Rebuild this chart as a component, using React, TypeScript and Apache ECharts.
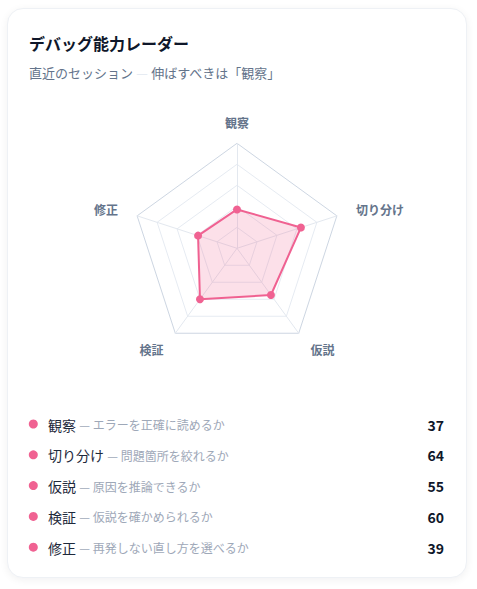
import React, { useEffect, useRef } from 'react';
import * as echarts from 'echarts';

const axisNames = ['観察', '切り分け', '仮説', '検証', '修正'];
const scores = [37, 64, 55, 60, 39];
const descriptions = [
  'エラーを正確に読めるか',
  '問題箇所を絞れるか',
  '原因を推論できるか',
  '仮説を確かめられるか',
  '再発しない直し方を選べるか',
];
const maxScore = 100;
const chartTitle = 'デバッグ能力レーダー';
const subtitleLead = '直近のセッション';
const subtitleFocus = '伸ばすべきは「観察」';

const FONT = "'Noto Sans CJK JP', 'Noto Sans', sans-serif";
const PINK = '#f06292';

export default function App() {
  const ref = useRef<HTMLDivElement>(null);

  useEffect(() => {
    document.body.style.margin = '0';
    const chart = echarts.init(ref.current!, null, { renderer: 'svg' });
    // ECharts radar lays indicators out counter-clockwise from the top;
    // the reference goes clockwise, so reorder.
    const order = [0, 4, 3, 2, 1];
    const indicator = order.map((i) => ({ name: axisNames[i], max: maxScore }));
    const values = order.map((i) => scores[i]);

    const rowY0 = 424.5;
    const rowStep = 30.8;
    const listGraphics: any[] = [];
    axisNames.forEach((name, i) => {
      const y = rowY0 + i * rowStep;
      listGraphics.push({
        type: 'circle',
        shape: { cx: 33.3, cy: y - 0.5, r: 4.5 },
        style: { fill: PINK },
      });
      listGraphics.push({
        type: 'text',
        x: 48,
        y,
        style: {
          text: `{a|${name}} {b|— ${descriptions[i]}}`,
          verticalAlign: 'middle',
          align: 'left',
          rich: {
            a: { fontSize: 14, fontFamily: FONT, fill: '#1e293b', color: '#1e293b' },
            b: { fontSize: 12, fontFamily: FONT, fill: '#9ea8b8', color: '#9ea8b8' },
          },
        },
      });
      listGraphics.push({
        type: 'text',
        x: 444,
        y,
        style: {
          text: String(scores[i]),
          align: 'right',
          verticalAlign: 'middle',
          fontSize: 14,
          fontWeight: 'bold',
          fontFamily: FONT,
          fill: '#0f172a',
        },
      });
    });

    chart.setOption({
      animation: false,
      backgroundColor: 'transparent',
      radar: {
        center: [237, 248.3],
        radius: 105,
        splitNumber: 5,
        indicator,
        nameGap: 20,
        axisName: {
          color: '#64748b',
          fontSize: 12,
          fontWeight: 600,
          fontFamily: FONT,
          lineHeight: 2,
        },
        splitArea: { show: false },
        splitLine: {
          lineStyle: {
            color: ['#e6ebf2', '#e6ebf2', '#e6ebf2', '#e6ebf2', '#e6ebf2', '#cdd6e2'],
            width: 1,
          },
        },
        axisLine: { lineStyle: { color: '#e3e8ef', width: 1 } },
      },
      series: [
        {
          type: 'radar',
          symbol: 'circle',
          symbolSize: 8,
          data: [
            {
              value: values,
              name: chartTitle,
              itemStyle: { color: PINK },
              lineStyle: { color: PINK, width: 2 },
              areaStyle: { color: PINK, opacity: 0.2 },
            },
          ],
        },
      ],
      graphic: [
        {
          type: 'text',
          x: 29,
          y: 43,
          style: {
            text: chartTitle,
            fontSize: 16,
            fontWeight: 'bold',
            fontFamily: FONT,
            fill: '#0f172a',
            verticalAlign: 'middle',
          },
        },
        {
          type: 'text',
          x: 29,
          y: 72,
          style: {
            text: `{a|${subtitleLead}} {d|—} {a|${subtitleFocus}}`,
            verticalAlign: 'middle',
            rich: {
              a: { fontSize: 13, fontFamily: FONT, fill: '#64748b', color: '#64748b' },
              d: { fontSize: 13, fontFamily: FONT, fill: '#e2e8f0', color: '#e2e8f0' },
            },
          },
        },
        ...listGraphics,
      ],
    });
    return () => chart.dispose();
  }, []);

  return (
    <div style={{ position: 'relative', width: 477, height: 589, background: '#ffffff' }}>
      <div
        style={{
          position: 'absolute',
          left: 7,
          top: 8,
          width: 460,
          height: 570,
          boxSizing: 'border-box',
          borderRadius: 16,
          border: '1px solid #eef1f5',
          boxShadow: '0 2px 8px rgba(15, 23, 42, 0.06)',
          background: '#ffffff',
        }}
      />
      <div ref={ref} style={{ position: 'absolute', left: 0, top: 0, width: 477, height: 589 }} />
    </div>
  );
}
